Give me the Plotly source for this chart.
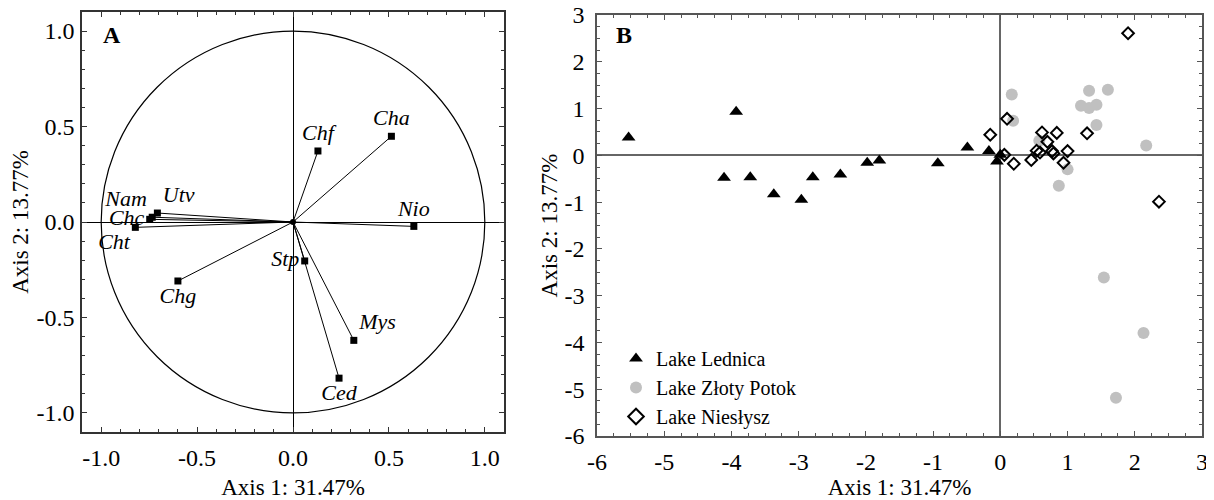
import plotly.graph_objects as go

# Panel A: variable loadings
var_names = ["Chf", "Cha", "Nio", "Utv", "Nam", "Chc", "Cht", "Stp", "Chg", "Mys", "Ced"]
var_x = [0.13, 0.513, 0.63, -0.707, -0.734, -0.747, -0.822, 0.061, -0.60, 0.317, 0.24]
var_y = [0.372, 0.449, -0.023, 0.047, 0.025, 0.014, -0.028, -0.204, -0.309, -0.62, -0.818]
var_textpos = ["top center", "top center", "top center", "top right", "top left", "middle left",
               "bottom left", "middle left", "bottom center", "top right", "bottom center"]
a_tickvals = [-1.0, -0.5, 0.0, 0.5, 1.0]
a_ticktext = ["-1.0", "-0.5", "0.0", "0.5", "1.0"]

# Panel B: sample scores
led_x = [-5.53, -3.93, -4.11, -3.72, -3.37, -2.96, -2.79, -2.38, -1.98, -1.80, -0.93, -0.49, -0.17, 0.0, -0.05]
led_y = [0.38, 0.93, -0.48, -0.47, -0.83, -0.95, -0.47, -0.41, -0.16, -0.11, -0.17, 0.17, 0.09, 0.015, -0.13]
zp_x = [0.17, 0.19, 1.32, 1.60, 1.20, 1.32, 1.43, 1.43, 2.17, 0.58, 1.0, 0.87, 1.54, 2.13, 1.72]
zp_y = [1.30, 0.74, 1.38, 1.40, 1.06, 1.01, 1.08, 0.65, 0.21, 0.31, -0.30, -0.65, -2.61, -3.80, -5.18]
nie_x = [1.90, 2.36, 0.10, -0.15, 0.06, 0.20, 0.46, 0.54, 0.59, 0.62, 0.70, 0.77, 0.79, 0.84, 0.94, 1.00, 1.29]
nie_y = [2.61, -0.99, 0.78, 0.44, 0.01, -0.18, -0.10, 0.10, 0.06, 0.49, 0.29, 0.09, 0.04, 0.48, -0.16, 0.09, 0.47]
b_tickvals = [-6, -5, -4, -3, -2, -1, 0, 1, 2, 3]
b_ticktext = ["-6", "-5", "-4", "-3", "-2", "-1", "0", "1", "2", "3"]

FONT = "Liberation Serif"

# page is shown with an 8px body margin; figure size compensates
OFF = 8
W, H = 1214 - OFF, 500 - OFF


def fx(px):
    return (px - OFF) / W


def fy(py):
    return 1 - (py - OFF) / H


fig = go.Figure()

# loading lines from origin
lx, ly = [], []
for x, y in zip(var_x, var_y):
    lx += [0, x, None]
    ly += [0, y, None]
fig.add_trace(go.Scatter(x=lx, y=ly, mode="lines", line=dict(color="black", width=1),
                         showlegend=False, xaxis="x", yaxis="y", hoverinfo="skip"))
fig.add_trace(go.Scatter(x=var_x, y=var_y, mode="markers+text", text=var_names,
                         textposition=var_textpos,
                         textfont=dict(family=FONT, size=22, color="black", style="italic"),
                         marker=dict(symbol="square", size=7, color="black"),
                         showlegend=False, xaxis="x", yaxis="y"))
fig.add_trace(go.Scatter(x=[0], y=[0], mode="markers", marker=dict(size=6, color="black"),
                         showlegend=False, xaxis="x", yaxis="y", hoverinfo="skip"))

# Panel B
fig.add_trace(go.Scatter(x=led_x, y=led_y, mode="markers", name="Lake Lednica",
                         marker=dict(symbol="triangle-up", size=12, color="black"),
                         xaxis="x2", yaxis="y2"))
fig.add_trace(go.Scatter(x=zp_x, y=zp_y, mode="markers", name="Lake Złoty Potok",
                         marker=dict(symbol="circle", size=12, color="#c0c0c0"),
                         xaxis="x2", yaxis="y2"))
fig.add_trace(go.Scatter(x=nie_x, y=nie_y, mode="markers", name="Lake Niesłysz",
                         marker=dict(symbol="diamond-open", size=9, color="black", line=dict(width=2)),
                         xaxis="x2", yaxis="y2"))

tickfont = dict(family=FONT, size=24, color="black")
titlefont = dict(family=FONT, size=23, color="black")

common_A = dict(range=[-1.1, 1.1], tickvals=a_tickvals, ticktext=a_ticktext,
                ticks="inside", ticklen=5, automargin=False, ticklabeloverflow="allow",
                showline=True, linecolor="#333", linewidth=1.5, mirror="ticks",
                showgrid=False, zeroline=True, zerolinecolor="black", zerolinewidth=1.2,
                tickfont=tickfont, tickcolor="#333",
                minor=dict(dtick=0.1, tick0=0, ticks="inside", ticklen=3, tickcolor="#333"))
common_B = dict(range=[-6, 3], tickvals=b_tickvals, ticktext=b_ticktext,
                ticks="inside", ticklen=5, automargin=False, ticklabeloverflow="allow",
                showline=True, linecolor="#555", linewidth=1.5, mirror="ticks",
                showgrid=False, zeroline=True, zerolinecolor="#666", zerolinewidth=1.5,
                tickfont=tickfont, tickcolor="#555",
                minor=dict(dtick=0.25, tick0=0, ticks="inside", ticklen=3, tickcolor="#555"))

fig.update_layout(
    width=W, height=H,
    margin=dict(l=0, r=0, t=0, b=0),
    paper_bgcolor="white", plot_bgcolor="white",
    font=dict(family=FONT, color="black"),
    xaxis=dict(domain=[fx(82), fx(504)], anchor="y", **common_A, ticklabelstandoff=3,
               title=dict(text="Axis 1: 31.47%", font=titlefont, standoff=14)),
    yaxis=dict(domain=[fy(432), fy(12)], anchor="x", **common_A, ticklabelstandoff=1,
               title=dict(text="Axis 2: 13.77%", font=titlefont, standoff=8)),
    xaxis2=dict(domain=[fx(597), fx(1202)], anchor="y2", **common_B, ticklabelstandoff=3,
                title=dict(text="Axis 1: 31.47%", font=titlefont, standoff=14)),
    yaxis2=dict(domain=[fy(436), fy(15)], anchor="x2", **common_B, ticklabelstandoff=6,
                title=dict(text="Axis 2: 13.77%", font=titlefont, standoff=0)),
    legend=dict(x=fx(616), y=fy(339), xanchor="left", yanchor="top",
                font=dict(family=FONT, size=20, color="black"),
                bgcolor="rgba(0,0,0,0)", itemsizing="constant", tracegroupgap=0),
    shapes=[dict(type="circle", xref="x", yref="y", x0=-1, y0=-1, x1=1, y1=1,
                 line=dict(color="black", width=1.2), layer="below")],
    annotations=[
        dict(text="<b>A</b>", xref="paper", yref="paper", x=fx(101), y=fy(35),
             xanchor="left", yanchor="middle", showarrow=False,
             font=dict(family=FONT, size=24, color="black")),
        dict(text="<b>B</b>", xref="paper", yref="paper", x=fx(614), y=fy(35),
             xanchor="left", yanchor="middle", showarrow=False,
             font=dict(family=FONT, size=24, color="black")),
    ],
)

fig.write_html("out.html")
